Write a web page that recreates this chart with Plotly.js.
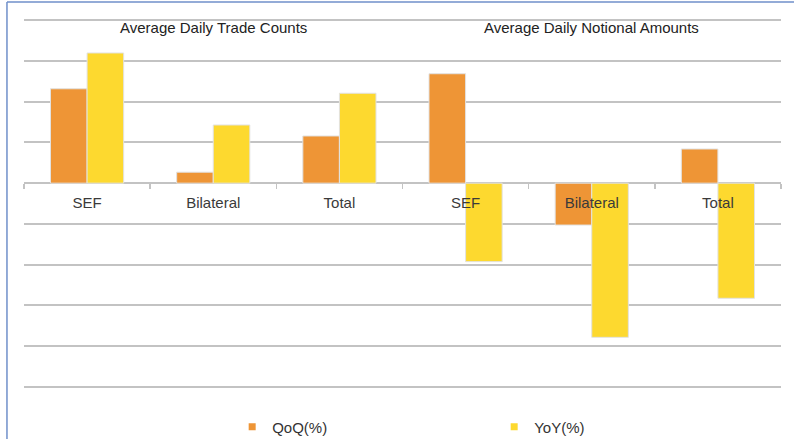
<!DOCTYPE html>
<html>
<head>
<meta charset="utf-8">
<script src="https://cdn.plot.ly/plotly-3.0.1.min.js"></script>
<style>html,body{margin:0;padding:0;background:#fff;}#chart{width:794px;height:439px;}</style>
</head>
<body>
<div id="chart"></div>
<script>
// Data (percent change; gridline spacing = 10)
const categories = ['SEF', 'Bilateral', 'Total', 'SEF', 'Bilateral', 'Total'];
const groupTitles = ['Average Daily Trade Counts', 'Average Daily Notional Amounts'];
const qoq = [23.2, 2.7, 11.6, 26.9, -10.3, 8.4];
const yoy = [32.0, 14.3, 22.1, -19.3, -37.9, -28.3];
const seriesNames = ['QoQ(%)', 'YoY(%)'];

const orange = '#EE9536';
const yellow = '#FDD92F';
const gridCol = '#c3c3c3';

const xIdx = categories.map((c, i) => i);
const bounds = categories.map((c, i) => i - 0.5).concat([categories.length - 0.5]);

const yRange = [-50.6, 40.6];
const zeroPos = (0 - yRange[0]) / (yRange[1] - yRange[0]);

const traces = [
  {type: 'bar', x: xIdx, y: qoq, name: seriesNames[0], marker: {color: orange, line: {color: '#e2e2e2', width: 1}}, showlegend: false, hoverinfo: 'y'},
  {type: 'bar', x: xIdx, y: yoy, name: seriesNames[1], marker: {color: yellow, line: {color: '#e2e2e2', width: 1}}, showlegend: false, hoverinfo: 'y'},
  {type: 'scatter', mode: 'markers', x: [null], y: [null], name: seriesNames[0], marker: {symbol: 'square', size: 7, color: orange}, showlegend: true},
  {type: 'scatter', mode: 'markers', x: [null], y: [null], name: seriesNames[1], marker: {symbol: 'square', size: 7, color: yellow}, showlegend: true},
  {type: 'scatter', x: [null], y: [null], xaxis: 'x2', showlegend: false, hoverinfo: 'skip'}
];

const layout = {
  width: 794, height: 439,
  margin: {l: 24, r: 13, t: 18, b: 50, autoexpand: false},
  paper_bgcolor: '#ffffff', plot_bgcolor: '#ffffff',
  font: {family: 'Liberation Sans, Arial, sans-serif', size: 15, color: '#3a3a3a'},
  barmode: 'group', bargap: 0.42, bargroupgap: 0,
  xaxis: {
    range: [-0.5, categories.length - 0.5],
    tickmode: 'array', tickvals: xIdx, ticktext: categories,
    ticks: 'outside', ticklen: 6, tickcolor: 'rgba(0,0,0,0)',
    showgrid: false, zeroline: false, showline: false,
    anchor: 'free', position: zeroPos,
    tickfont: {size: 15, color: '#3a3a3a'},
    fixedrange: true
  },
  xaxis2: {
    overlaying: 'x', matches: 'x',
    range: [-0.5, categories.length - 0.5],
    tickmode: 'array', tickvals: bounds,
    ticks: 'outside', ticklen: 5, tickwidth: 1.5, tickcolor: gridCol,
    showticklabels: false, showgrid: false, zeroline: false, showline: false,
    anchor: 'free', position: zeroPos
  },
  yaxis: {
    range: yRange, dtick: 10, tick0: 0,
    showticklabels: false, ticks: '',
    showgrid: true, gridcolor: gridCol, gridwidth: 2,
    zeroline: false, showline: false, fixedrange: true
  },
  legend: {
    orientation: 'h', x: 0.275, xanchor: 'left', y: -0.1024, yanchor: 'middle',
    entrywidth: 217, entrywidthmode: 'pixels',
    font: {size: 15, color: '#333333'}, bgcolor: 'rgba(0,0,0,0)'
  },
  annotations: [
    {text: groupTitles[0], xref: 'x', yref: 'y', x: 1, y: 38.2, showarrow: false, xanchor: 'center', yanchor: 'middle', font: {size: 15, color: '#222222'}},
    {text: groupTitles[1], xref: 'x', yref: 'y', x: 4, y: 38.2, showarrow: false, xanchor: 'center', yanchor: 'middle', font: {size: 15, color: '#222222'}}
  ],
  shapes: [
    {type: 'line', xref: 'paper', yref: 'paper', x0: -0.0225, x1: -0.0225, y0: -0.15, y1: 1.0431, line: {color: '#6f8fca', width: 1.5}},
    {type: 'line', xref: 'paper', yref: 'paper', x0: -0.0225, x1: 1.02, y0: 1.0431, y1: 1.0431, line: {color: '#6f8fca', width: 1.5}}
  ]
};

Plotly.newPlot('chart', traces, layout, {displayModeBar: false, staticPlot: true});
</script>
</body>
</html>
